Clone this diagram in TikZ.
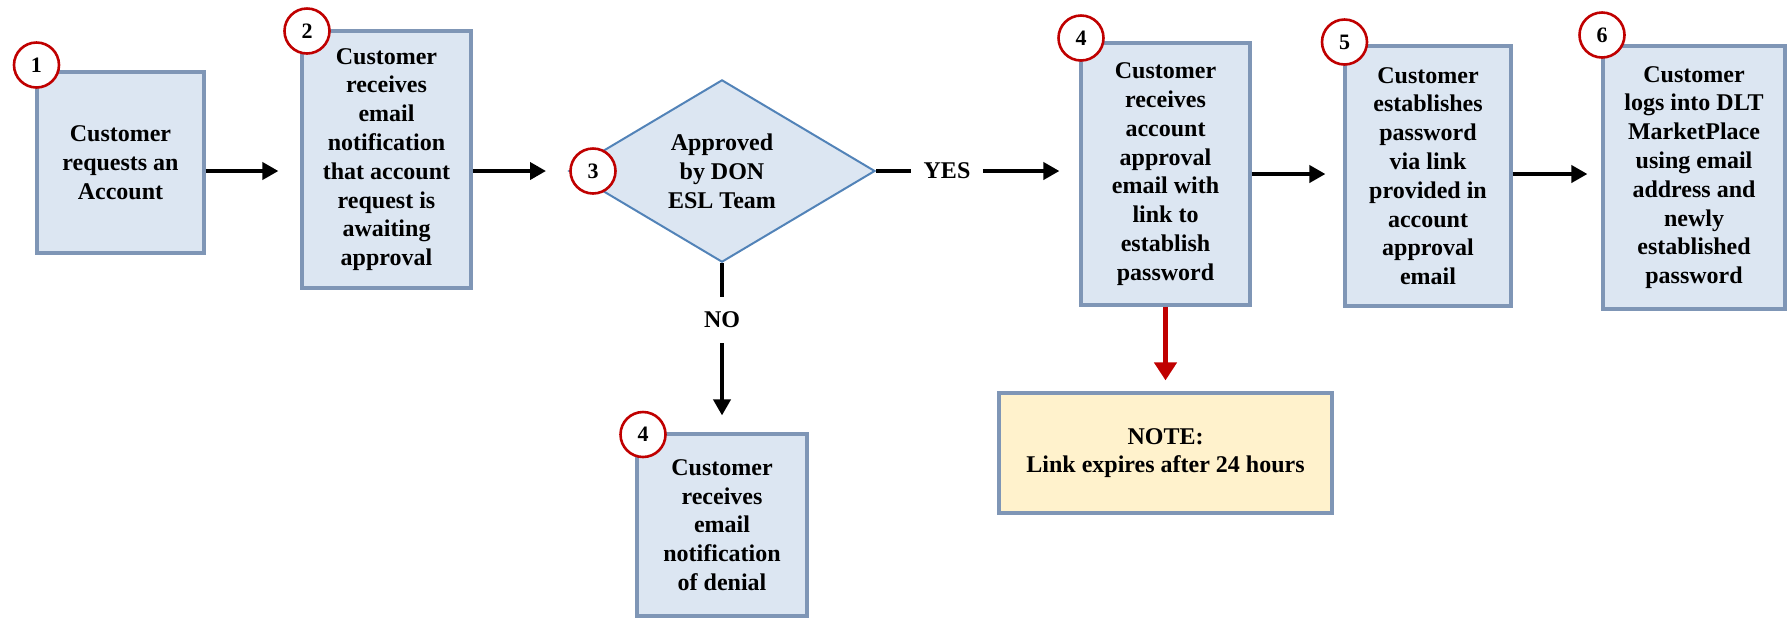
\documentclass[tikz,border=0pt]{standalone}
\usepackage{fontspec}
\setmainfont{Liberation Serif}
\usetikzlibrary{shapes.geometric,arrows.meta}
\definecolor{boxfill}{HTML}{DCE6F2}
\definecolor{boxline}{HTML}{7F96B6}
\definecolor{decline}{HTML}{5283B8}
\definecolor{notefill}{HTML}{FFF2CC}
\definecolor{stepred}{HTML}{C00000}

\begin{document}
\begin{tikzpicture}[x=0.5pt, y=-0.5pt,
		stepbox/.style={draw=boxline, fill=boxfill, line width=1.6pt, inner sep=0pt, align=center, font=\fontsize{12}{14.4}\selectfont\bfseries},
		decbox/.style={diamond, draw=decline, fill=boxfill, line width=1pt, inner sep=0pt, align=center, font=\fontsize{12}{14.4}\selectfont\bfseries},
		numcirc/.style={circle, draw=stepred, fill=white, line width=1.3pt, minimum size=22.5pt, inner sep=0pt, font=\fontsize{11}{13}\selectfont\bfseries},
		answer/.style={inner xsep=6pt, inner ysep=7.3pt, font=\fontsize{12}{14.4}\selectfont\bfseries},
		arr/.style={line width=1.9pt, -{Triangle[length=8pt,width=8.5pt]}},
		redarr/.style={stepred, line width=2.4pt, -{Triangle[length=9pt,width=11pt]}}]
	\useasboundingbox (0,0) rectangle (1787,618);

	\node[stepbox, minimum width=83.5pt, minimum height=90.5pt] (b1) at (120.5,162.5) {Customer\\requests an\\Account};
	\node[stepbox, minimum width=84.5pt, minimum height=128.5pt] (b2) at (386.5,159.5) {Customer\\receives\\email\\notification\\that account\\request is\\awaiting\\approval};
	\node[decbox, minimum width=153pt, minimum height=88.5pt] (dec) at (722,171) {Approved\\by DON\\ESL Team};
	\node[stepbox, minimum width=84.5pt, minimum height=131pt] (b4) at (1165.5,174) {Customer\\receives\\account\\approval\\email with\\link to\\establish\\password};
	\node[stepbox, minimum width=83pt, minimum height=130pt] (b5) at (1428,176) {Customer\\establishes\\password\\via link\\provided in\\account\\approval\\email};
	\node[stepbox, minimum width=91pt, minimum height=131.5pt] (b6) at (1694,177.5) {Customer\\logs into DLT\\MarketPlace\\using email\\address and\\newly\\established\\password};
	\node[stepbox, minimum width=85pt, minimum height=91pt] (deny) at (722,525) {Customer\\receives\\email\\notification\\of denial};
	\node[stepbox, fill=notefill, minimum width=166.5pt, minimum height=60pt] (note) at (1165.5,453) {NOTE:\\Link expires after 24 hours};

	\node[answer] (yes) at (947,171) {YES};
	\node[answer] (no) at (722,320) {NO};

	\draw[arr, shorten >=11pt] (b1.east |- dec) -- (b2.west |- dec);
	\draw[arr, shorten >=11pt] (b2.east |- dec) -- (dec.west);
	\draw[line width=1.9pt] (dec.east) -- (yes);
	\draw[arr, shorten >=10pt] (yes) -- (yes -| b4.west);
	\draw[line width=1.9pt] (dec.south) -- (no);
	\draw[arr, shorten >=8.5pt] (no) -- (deny);
	\draw[arr, shorten >=9pt] (b4.east) -- (b4.east -| b5.west);
	\draw[arr, shorten >=7pt] (b5.east |- b4) -- (b6.west |- b4);
	\draw[redarr, shorten >=5.5pt] (b4.south) -- (note.north);

	\node[numcirc] (n1) at (36.5,65) {1};
	\node[numcirc] (n2) at (307,31) {2};
	\node[numcirc] (n3) at (593,171) {3};
	\node[numcirc] (n4) at (1081,38) {4};
	\node[numcirc] (n5) at (1344.5,42) {5};
	\node[numcirc] (n6) at (1602,35) {6};
	\node[numcirc] (n7) at (643,434.5) {4};
\end{tikzpicture}
\end{document}
